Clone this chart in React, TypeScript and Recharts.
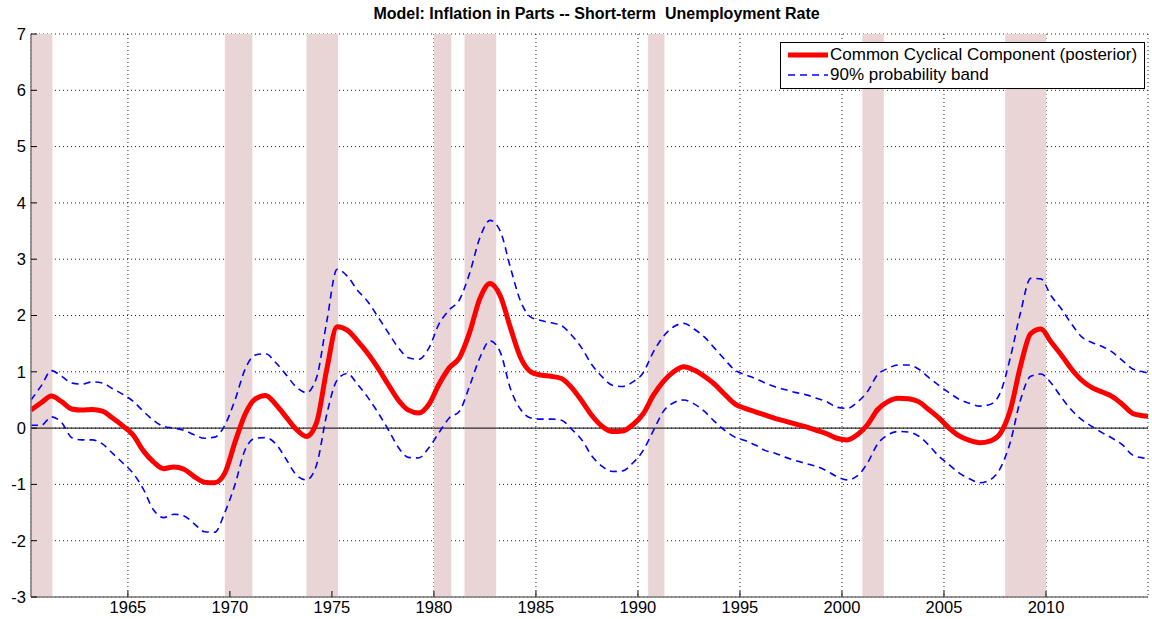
import { ComposedChart, Line, XAxis, YAxis, CartesianGrid, ReferenceArea, ReferenceLine } from 'recharts'

// half-year grid, 1960.25 .. 2014.75, plus the last observation
const years: number[] = [...Array.from({ length: 110 }, (_, i) => 1960.25 + i * 0.5), 2015]

const cyclical = [
    0.32, 0.45, 0.57, 0.47, 0.34, 0.32, 0.33, 0.30, 0.18, 0.04,
    -0.12, -0.40, -0.60, -0.72, -0.69, -0.73, -0.86, -0.96, -0.97, -0.80,
    -0.25, 0.25, 0.52, 0.58, 0.42, 0.20, -0.02, -0.15, 0.10, 1.05,
    1.80, 1.74, 1.55, 1.33, 1.07, 0.78, 0.50, 0.32, 0.27, 0.42,
    0.78, 1.07, 1.25, 1.70, 2.30, 2.57, 2.35, 1.78, 1.25, 1.00,
    0.94, 0.92, 0.88, 0.72, 0.48, 0.22, 0.03, -0.06, -0.05, 0.06,
    0.25, 0.58, 0.83, 1.00, 1.09, 1.03, 0.92, 0.78, 0.60, 0.43,
    0.35, 0.29, 0.23, 0.17, 0.12, 0.07, 0.02, -0.04, -0.10, -0.18,
    -0.21, -0.12, 0.06, 0.33, 0.47, 0.53, 0.52, 0.47, 0.33, 0.18,
    0.00, -0.14, -0.22, -0.26, -0.23, -0.10, 0.32, 1.10, 1.68, 1.76,
    1.53, 1.30, 1.05, 0.85, 0.72, 0.64, 0.56, 0.42, 0.26, 0.22,
    0.21,
]

const bandUpper = [
    0.50, 0.75, 1.02, 0.92, 0.80, 0.78, 0.82, 0.80, 0.70, 0.60,
    0.48, 0.30, 0.14, 0.03, 0.00, -0.04, -0.12, -0.18, -0.16, 0.05,
    0.50, 1.05, 1.30, 1.32, 1.16, 0.95, 0.73, 0.63, 0.90, 1.90,
    2.82, 2.70, 2.45, 2.25, 1.98, 1.70, 1.43, 1.25, 1.22, 1.42,
    1.85, 2.10, 2.28, 2.75, 3.38, 3.69, 3.50, 2.85, 2.25, 1.97,
    1.91, 1.87, 1.82, 1.65, 1.42, 1.12, 0.91, 0.76, 0.74, 0.82,
    0.98, 1.35, 1.63, 1.80, 1.86, 1.76, 1.62, 1.42, 1.22, 1.03,
    0.95, 0.88, 0.80, 0.73, 0.68, 0.63, 0.59, 0.53, 0.47, 0.37,
    0.35, 0.46, 0.65, 0.95, 1.06, 1.12, 1.12, 1.05, 0.90, 0.76,
    0.63, 0.51, 0.44, 0.39, 0.42, 0.62, 1.25, 2.05, 2.66, 2.65,
    2.35, 2.12, 1.85, 1.62, 1.52, 1.45, 1.35, 1.20, 1.05, 1.00,
    0.98,
]

const bandLower = [
    0.05, 0.05, 0.20, 0.10, -0.17, -0.21, -0.21, -0.28, -0.45, -0.62,
    -0.80, -1.08, -1.45, -1.59, -1.53, -1.56, -1.70, -1.84, -1.85, -1.50,
    -1.00, -0.38, -0.18, -0.17, -0.28, -0.55, -0.83, -0.92, -0.65, 0.25,
    0.85, 0.97, 0.78, 0.55, 0.28, -0.02, -0.34, -0.52, -0.53, -0.35,
    -0.08, 0.18, 0.30, 0.75, 1.25, 1.55, 1.35, 0.70, 0.33, 0.18,
    0.16, 0.16, 0.14, -0.02, -0.21, -0.50, -0.68, -0.77, -0.76, -0.62,
    -0.40, -0.05, 0.30, 0.45, 0.50, 0.43, 0.30, 0.12, -0.04, -0.16,
    -0.22, -0.30, -0.40, -0.45, -0.52, -0.58, -0.63, -0.68, -0.76, -0.86,
    -0.92, -0.85, -0.62, -0.28, -0.12, -0.06, -0.07, -0.14, -0.30, -0.50,
    -0.65, -0.80, -0.90, -0.97, -0.92, -0.72, -0.25, 0.50, 0.92, 0.96,
    0.80, 0.55, 0.32, 0.15, 0.03, -0.08, -0.18, -0.30, -0.48, -0.53,
    -0.55,
]

// recession shading (start, end)
const recessionStart = [1960.25, 1969.75, 1973.75, 1980.0, 1981.5, 1990.5, 2001.0, 2008.0]
const recessionEnd = [1961.3, 1971.1, 1975.3, 1980.85, 1983.05, 1991.3, 2002.05, 2010.0]

const xTicks = [1965, 1970, 1975, 1980, 1985, 1990, 1995, 2000, 2005, 2010]
const yTicks = [-3, -2, -1, 0, 1, 2, 3, 4, 5, 6, 7]

const data = years.map((year, i) => ({
    year,
    mid: cyclical[i],
    hi: bandUpper[i],
    lo: bandLower[i],
}))

const font = 'Arial, "Liberation Sans", Helvetica, sans-serif'
const tickStyle = { fill: '#000', fontSize: 16.5, fontFamily: font }

export default function App() {
    return (
        <div style={{ position: 'absolute', left: 0, top: 0, width: 1152, height: 619, background: '#fff' }}>
            <div
                style={{
                    position: 'absolute',
                    left: 38,
                    width: 1117,
                    top: 5,
                    textAlign: 'center',
                    fontFamily: '"Liberation Sans Narrow", Arial, sans-serif',
                    fontWeight: 'bold',
                    fontSize: 16,
                    color: '#000',
                }}
            >
                Model: Inflation in Parts -- Short-term&nbsp; Unemployment Rate
            </div>

            <ComposedChart width={1152} height={619} data={data} margin={{ top: 34, right: 4, left: 0, bottom: 0 }}>
                <CartesianGrid stroke="#222" strokeDasharray="1 3" />
                <XAxis
                    dataKey="year"
                    type="number"
                    domain={[1960.25, 2015]}
                    ticks={xTicks}
                    allowDataOverflow
                    height={22}
                    tick={tickStyle}
                    tickSize={-6}
                    tickMargin={10}
                    tickLine={{ stroke: '#000' }}
                    axisLine={{ stroke: '#777', strokeWidth: 1.5 }}
                />
                <XAxis
                    xAxisId="top"
                    orientation="top"
                    type="number"
                    domain={[1960.25, 2015]}
                    ticks={xTicks}
                    allowDataOverflow
                    height={0}
                    tick={false}
                    tickSize={-6}
                    tickLine={{ stroke: '#000' }}
                    axisLine={{ stroke: '#000' }}
                />
                <YAxis
                    type="number"
                    domain={[-3, 7]}
                    ticks={yTicks}
                    allowDataOverflow
                    width={31}
                    tick={tickStyle}
                    tickSize={-6}
                    tickMargin={11}
                    tickLine={{ stroke: '#000' }}
                    axisLine={{ stroke: '#777', strokeWidth: 1.5 }}
                />
                <YAxis
                    yAxisId="right"
                    orientation="right"
                    type="number"
                    domain={[-3, 7]}
                    ticks={yTicks}
                    width={0}
                    tick={false}
                    tickSize={-6}
                    tickLine={{ stroke: '#000' }}
                    axisLine={{ stroke: '#000' }}
                />

                {recessionStart.map((s, i) => (
                    <ReferenceArea key={s} x1={s} x2={recessionEnd[i]} y1={-3} y2={7} fill="#e9d5d5" fillOpacity={1} stroke="none" ifOverflow="hidden" />
                ))}

                <ReferenceLine y={0} stroke="#000" strokeWidth={1} />

                <Line dataKey="hi" type="monotone" stroke="#0000ff" strokeWidth={1.6} strokeDasharray="7 5" dot={false} isAnimationActive={false} />
                <Line dataKey="lo" type="monotone" stroke="#0000ff" strokeWidth={1.6} strokeDasharray="7 5" dot={false} isAnimationActive={false} />
                <Line dataKey="mid" type="monotone" stroke="#ff0000" strokeWidth={5} dot={false} isAnimationActive={false} />
            </ComposedChart>

            <div
                style={{
                    position: 'absolute',
                    left: 780,
                    top: 42,
                    width: 363,
                    height: 45,
                    border: '1px solid #000',
                    background: '#fff',
                    fontFamily: font,
                    fontSize: 17,
                    color: '#000',
                    whiteSpace: 'nowrap',
                }}
            >
                <div style={{ position: 'absolute', left: 6, top: 1, display: 'flex', alignItems: 'center', height: 21 }}>
                    <svg width={42} height={8}>
                        <line x1={1} y1={4} x2={41} y2={4} stroke="#ff0000" strokeWidth={5} />
                    </svg>
                    <span style={{ marginLeft: 1 }}>Common Cyclical Component (posterior)</span>
                </div>
                <div style={{ position: 'absolute', left: 6, top: 21, display: 'flex', alignItems: 'center', height: 21 }}>
                    <svg width={42} height={8}>
                        <line x1={1} y1={4} x2={41} y2={4} stroke="#0000ff" strokeWidth={1.6} strokeDasharray="7 5" />
                    </svg>
                    <span style={{ marginLeft: 1 }}>90% probability band</span>
                </div>
            </div>
        </div>
    )
}
